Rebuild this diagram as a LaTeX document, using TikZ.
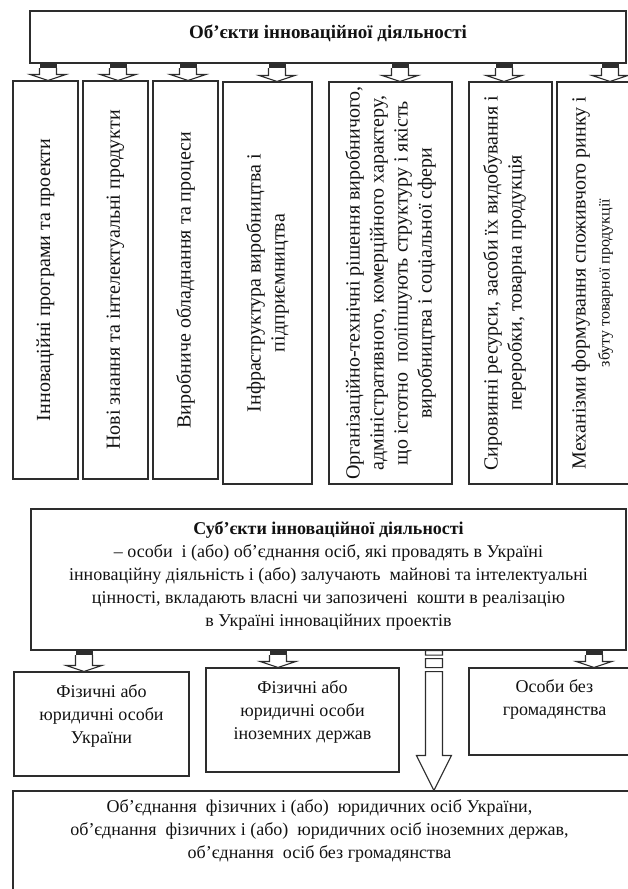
\documentclass[tikz,border=0pt]{standalone}
\usepackage{fontspec}
\setmainfont{Liberation Serif}
\usetikzlibrary{calc,fit}
\definecolor{ink}{RGB}{18,18,18}
\definecolor{rule}{RGB}{45,45,45}

\tikzset{
  panel/.style={draw=rule,line width=1.1pt,inner sep=0pt},
  coltext/.style={rotate=90,align=center,text=ink,
    font=\fontsize{20}{24}\selectfont},
  rowtext/.style={align=center,text=ink,
    font=\fontsize{18}{23}\selectfont},
}

% block arrow: black stub, hollow shaft, open head
\newcommand{\stubarrow}[3]{%
  \path ($(#1.south -| #2.north)+(#3,0)$) coordinate (sa-s)
        ($(#2.north)+(#3,0)$) coordinate (sa-e);
  \fill[rule] ($(sa-s)+(-8.5,0)$) rectangle ($(sa-s)+(8.5,4.5)$);
  \draw[rule,line width=1.1pt,fill=white]
    ($(sa-s)+(-8.5,4.5)$) -- ($(sa-e)+(-8.5,-6)$) -- ($(sa-e)+(-18,-6)$)
    -- (sa-e) -- ($(sa-e)+(18,-6)$) -- ($(sa-e)+(8.5,-6)$)
    -- ($(sa-s)+(8.5,4.5)$);}

\begin{document}
\begin{tikzpicture}[x=1pt,y=-1pt]
  \useasboundingbox (0,0) rectangle (627,889);

  % objects
  \node[panel,fit={(30,11) (626,63)}] (obj) {};
  \node[rowtext,font=\fontsize{19}{22}\selectfont\bfseries] (objt) at ($(obj.center)+(0,-4)$)
    {Об’єкти інноваційної діяльності};

  \node[panel,fit={(13,81) (78,479)}] (c1) {};
  \node[panel,fit={(83,81) (148,479)}] (c2) {};
  \node[panel,fit={(153,81) (218,479)}] (c3) {};
  \node[panel,fit={(223,82) (312,484)}] (c4) {};
  \node[panel,fit={(329,82) (452,484)}] (c5) {};
  \node[panel,fit={(469,82) (552,484)}] (c6) {};
  \node[panel,fit={(557,82) (640,484)}] (c7) {};

  \node[coltext] (t1) at (c1.center) {Інноваційні програми та проекти};
  \node[coltext] (t2) at (c2.center) {Нові знання та інтелектуальні продукти};
  \node[coltext] (t3) at (c3.center) {Виробниче обладнання та процеси};
  \node[coltext] (t4) at (c4.center) {Інфраструктура виробництва і\\підприємництва};
  \node[coltext] (t5) at (c5.center)
    {Організаційно-технічні рішення виробничого,\\
     адміністративного, комерційного характеру,\\
     що істотно\ \ поліпшують структуру і якість\\
     виробництва і соціальної сфери};
  \node[coltext] (t6) at ($(c6.center)+(-6,0)$)
    {Сировинні ресурси, засоби їх видобування і\\переробки, товарна продукція};
  \node[coltext] (t7) at ($(c7.center)+(-6,0)$)
    {Механізми формування споживчого ринку і\\
     {\fontsize{16}{19}\selectfont збуту товарної продукції}};

  \stubarrow{obj}{c1}{2.5}
  \stubarrow{obj}{c2}{2.5}
  \stubarrow{obj}{c3}{2.5}
  \stubarrow{obj}{c4}{9.5}
  \stubarrow{obj}{c5}{9.5}
  \stubarrow{obj}{c6}{-6.5}
  \stubarrow{obj}{c7}{11.5}

  % subjects
  \node[panel,fit={(31,509) (626,650)}] (subj) {};
  \node[rowtext] (subjt) at ($(subj.center)+(0,-4)$)
    {\textbf{Суб’єкти інноваційної діяльності}\\
     – особи\ \ і (або) об’єднання осіб, які провадять в Україні\\
     інноваційну діяльність і (або) залучають\ \ майнові та інтелектуальні\\
     цінності, вкладають власні чи запозичені\ \ кошти в реалізацію\\
     в Україні інноваційних проектів};

  \node[panel,fit={(14,672) (189,776)}] (ua) {};
  \node[panel,fit={(206,668) (399,772)}] (foreign) {};
  \node[panel,fit={(469,668) (640,755)}] (stateless) {};
  \node[rowtext] (uat) at ($(ua.center)+(0,-8)$)
    {Фізичні або\\юридичні особи\\України};
  \node[rowtext] (foreignt) at ($(foreign.center)+(0,-8)$)
    {Фізичні або\\юридичні особи\\іноземних держав};
  \node[rowtext] (statelesst) at ($(stateless.north)+(0,32)$)
    {Особи без\\громадянства};

  \stubarrow{subj}{ua}{-17.5}
  \stubarrow{subj}{foreign}{-24.5}
  \stubarrow{subj}{stateless}{39.5}

  % associations
  \node[panel,fit={(13,791) (640,900)}] (union) {};
  \node[rowtext] (uniont) at ($(union.north)+(-7,41)$)
    {Об’єднання\ \ фізичних і (або)\ \ юридичних осіб України,\\
     об’єднання\ \ фізичних і (або)\ \ юридичних осіб іноземних держав,\\
     об’єднання\ \ осіб без громадянства};

  \coordinate (big-e) at ($(union.north west)+(421.5,0)$);
  \coordinate (big-s) at (subj.south -| big-e);
  \draw[rule,line width=1.1pt,fill=white]
    ($(big-s)+(-8.5,0)$) rectangle ($(big-s)+(8.5,4.5)$)
    ($(big-s)+(-8.5,8)$) rectangle ($(big-s)+(8.5,17)$)
    ($(big-s)+(-8.5,21)$) -- ($(big-e)+(-8.5,-35)$) -- ($(big-e)+(-17.5,-35)$)
    -- (big-e) -- ($(big-e)+(17.5,-35)$) -- ($(big-e)+(8.5,-35)$)
    -- ($(big-s)+(8.5,21)$) -- cycle;
\end{tikzpicture}
\end{document}
